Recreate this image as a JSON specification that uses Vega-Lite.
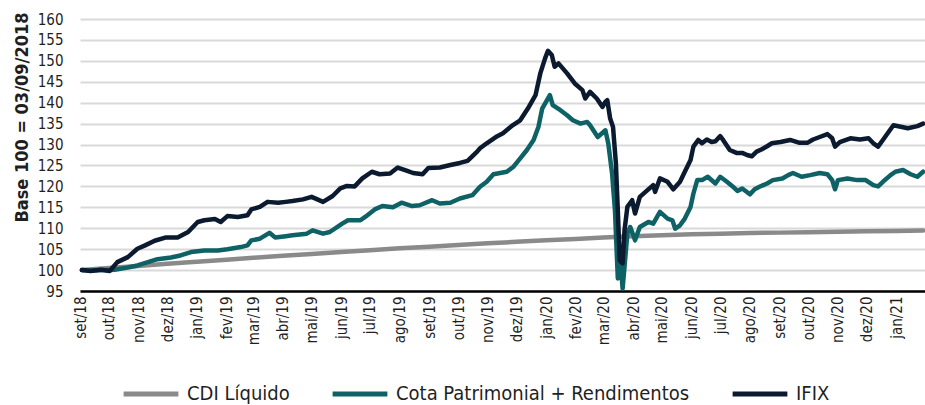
{
  "$schema": "https://vega.github.io/schema/vega-lite/v6.json",
  "width": 845,
  "height": 272,
  "autosize": {"type": "none"},
  "padding": {"left": 80, "top": 19, "right": 0, "bottom": 114},
  "background": "white",
  "config": {
    "view": {"stroke": null},
    "font": "DejaVu Sans Condensed, DejaVu Sans",
    "axis": {"labelFont": "DejaVu Sans Condensed, DejaVu Sans", "titleFont": "DejaVu Sans Condensed, DejaVu Sans"},
    "legend": {"labelFont": "DejaVu Sans Condensed, DejaVu Sans"}
  },
  "data": {
    "values": [
      {"s": "CDI Líquido", "d": "2018-09-03", "v": 100.0},
      {"s": "CDI Líquido", "d": "2018-10-01", "v": 100.5},
      {"s": "CDI Líquido", "d": "2018-11-01", "v": 101.0},
      {"s": "CDI Líquido", "d": "2018-12-01", "v": 101.5},
      {"s": "CDI Líquido", "d": "2019-01-01", "v": 102.0},
      {"s": "CDI Líquido", "d": "2019-02-01", "v": 102.45},
      {"s": "CDI Líquido", "d": "2019-03-01", "v": 102.95},
      {"s": "CDI Líquido", "d": "2019-04-01", "v": 103.4},
      {"s": "CDI Líquido", "d": "2019-05-01", "v": 103.85},
      {"s": "CDI Líquido", "d": "2019-06-01", "v": 104.3},
      {"s": "CDI Líquido", "d": "2019-07-01", "v": 104.75},
      {"s": "CDI Líquido", "d": "2019-08-01", "v": 105.2},
      {"s": "CDI Líquido", "d": "2019-09-01", "v": 105.6},
      {"s": "CDI Líquido", "d": "2019-10-01", "v": 106.0},
      {"s": "CDI Líquido", "d": "2019-11-01", "v": 106.4},
      {"s": "CDI Líquido", "d": "2019-12-01", "v": 106.75},
      {"s": "CDI Líquido", "d": "2020-01-01", "v": 107.1},
      {"s": "CDI Líquido", "d": "2020-02-01", "v": 107.45},
      {"s": "CDI Líquido", "d": "2020-03-01", "v": 107.8},
      {"s": "CDI Líquido", "d": "2020-04-01", "v": 108.1},
      {"s": "CDI Líquido", "d": "2020-05-01", "v": 108.35},
      {"s": "CDI Líquido", "d": "2020-06-01", "v": 108.55},
      {"s": "CDI Líquido", "d": "2020-07-01", "v": 108.7},
      {"s": "CDI Líquido", "d": "2020-08-01", "v": 108.85},
      {"s": "CDI Líquido", "d": "2020-09-01", "v": 108.95},
      {"s": "CDI Líquido", "d": "2020-10-01", "v": 109.05},
      {"s": "CDI Líquido", "d": "2020-11-01", "v": 109.15},
      {"s": "CDI Líquido", "d": "2020-12-01", "v": 109.25},
      {"s": "CDI Líquido", "d": "2021-01-01", "v": 109.35},
      {"s": "CDI Líquido", "d": "2021-01-29", "v": 109.45},

      {"s": "Cota Patrimonial + Rendimentos", "d": "2018-09-03", "v": 100.0},
      {"s": "Cota Patrimonial + Rendimentos", "d": "2018-09-12", "v": 99.9},
      {"s": "Cota Patrimonial + Rendimentos", "d": "2018-09-23", "v": 100.0},
      {"s": "Cota Patrimonial + Rendimentos", "d": "2018-10-02", "v": 100.0},
      {"s": "Cota Patrimonial + Rendimentos", "d": "2018-10-07", "v": 100.1},
      {"s": "Cota Patrimonial + Rendimentos", "d": "2018-10-21", "v": 100.6},
      {"s": "Cota Patrimonial + Rendimentos", "d": "2018-10-31", "v": 101.1},
      {"s": "Cota Patrimonial + Rendimentos", "d": "2018-11-11", "v": 101.9},
      {"s": "Cota Patrimonial + Rendimentos", "d": "2018-11-21", "v": 102.6},
      {"s": "Cota Patrimonial + Rendimentos", "d": "2018-12-05", "v": 103.0},
      {"s": "Cota Patrimonial + Rendimentos", "d": "2018-12-15", "v": 103.5},
      {"s": "Cota Patrimonial + Rendimentos", "d": "2018-12-26", "v": 104.3},
      {"s": "Cota Patrimonial + Rendimentos", "d": "2019-01-09", "v": 104.7},
      {"s": "Cota Patrimonial + Rendimentos", "d": "2019-01-23", "v": 104.7},
      {"s": "Cota Patrimonial + Rendimentos", "d": "2019-02-02", "v": 105.0},
      {"s": "Cota Patrimonial + Rendimentos", "d": "2019-02-16", "v": 105.5},
      {"s": "Cota Patrimonial + Rendimentos", "d": "2019-02-23", "v": 105.9},
      {"s": "Cota Patrimonial + Rendimentos", "d": "2019-02-27", "v": 107.1},
      {"s": "Cota Patrimonial + Rendimentos", "d": "2019-03-08", "v": 107.5},
      {"s": "Cota Patrimonial + Rendimentos", "d": "2019-03-18", "v": 108.9},
      {"s": "Cota Patrimonial + Rendimentos", "d": "2019-03-24", "v": 107.8},
      {"s": "Cota Patrimonial + Rendimentos", "d": "2019-04-04", "v": 108.1},
      {"s": "Cota Patrimonial + Rendimentos", "d": "2019-04-11", "v": 108.3},
      {"s": "Cota Patrimonial + Rendimentos", "d": "2019-04-26", "v": 108.7},
      {"s": "Cota Patrimonial + Rendimentos", "d": "2019-05-02", "v": 109.5},
      {"s": "Cota Patrimonial + Rendimentos", "d": "2019-05-13", "v": 108.7},
      {"s": "Cota Patrimonial + Rendimentos", "d": "2019-05-20", "v": 109.1},
      {"s": "Cota Patrimonial + Rendimentos", "d": "2019-06-02", "v": 111.1},
      {"s": "Cota Patrimonial + Rendimentos", "d": "2019-06-08", "v": 111.9},
      {"s": "Cota Patrimonial + Rendimentos", "d": "2019-06-21", "v": 111.9},
      {"s": "Cota Patrimonial + Rendimentos", "d": "2019-06-26", "v": 112.7},
      {"s": "Cota Patrimonial + Rendimentos", "d": "2019-07-06", "v": 114.5},
      {"s": "Cota Patrimonial + Rendimentos", "d": "2019-07-14", "v": 115.3},
      {"s": "Cota Patrimonial + Rendimentos", "d": "2019-07-25", "v": 115.0},
      {"s": "Cota Patrimonial + Rendimentos", "d": "2019-08-03", "v": 116.1},
      {"s": "Cota Patrimonial + Rendimentos", "d": "2019-08-14", "v": 115.3},
      {"s": "Cota Patrimonial + Rendimentos", "d": "2019-08-22", "v": 115.5},
      {"s": "Cota Patrimonial + Rendimentos", "d": "2019-09-04", "v": 116.7},
      {"s": "Cota Patrimonial + Rendimentos", "d": "2019-09-12", "v": 115.9},
      {"s": "Cota Patrimonial + Rendimentos", "d": "2019-09-23", "v": 116.1},
      {"s": "Cota Patrimonial + Rendimentos", "d": "2019-10-03", "v": 117.1},
      {"s": "Cota Patrimonial + Rendimentos", "d": "2019-10-16", "v": 117.9},
      {"s": "Cota Patrimonial + Rendimentos", "d": "2019-10-24", "v": 119.9},
      {"s": "Cota Patrimonial + Rendimentos", "d": "2019-10-31", "v": 121.1},
      {"s": "Cota Patrimonial + Rendimentos", "d": "2019-11-07", "v": 122.9},
      {"s": "Cota Patrimonial + Rendimentos", "d": "2019-11-21", "v": 123.5},
      {"s": "Cota Patrimonial + Rendimentos", "d": "2019-11-28", "v": 124.7},
      {"s": "Cota Patrimonial + Rendimentos", "d": "2019-12-05", "v": 126.7},
      {"s": "Cota Patrimonial + Rendimentos", "d": "2019-12-12", "v": 128.7},
      {"s": "Cota Patrimonial + Rendimentos", "d": "2019-12-19", "v": 131.1},
      {"s": "Cota Patrimonial + Rendimentos", "d": "2019-12-24", "v": 134.2},
      {"s": "Cota Patrimonial + Rendimentos", "d": "2019-12-28", "v": 138.6},
      {"s": "Cota Patrimonial + Rendimentos", "d": "2020-01-02", "v": 140.6},
      {"s": "Cota Patrimonial + Rendimentos", "d": "2020-01-05", "v": 141.8},
      {"s": "Cota Patrimonial + Rendimentos", "d": "2020-01-08", "v": 139.4},
      {"s": "Cota Patrimonial + Rendimentos", "d": "2020-01-16", "v": 138.2},
      {"s": "Cota Patrimonial + Rendimentos", "d": "2020-01-23", "v": 137.0},
      {"s": "Cota Patrimonial + Rendimentos", "d": "2020-01-29", "v": 135.8},
      {"s": "Cota Patrimonial + Rendimentos", "d": "2020-02-06", "v": 135.0},
      {"s": "Cota Patrimonial + Rendimentos", "d": "2020-02-13", "v": 135.4},
      {"s": "Cota Patrimonial + Rendimentos", "d": "2020-02-16", "v": 134.6},
      {"s": "Cota Patrimonial + Rendimentos", "d": "2020-02-24", "v": 131.8},
      {"s": "Cota Patrimonial + Rendimentos", "d": "2020-03-01", "v": 133.0},
      {"s": "Cota Patrimonial + Rendimentos", "d": "2020-03-03", "v": 133.4},
      {"s": "Cota Patrimonial + Rendimentos", "d": "2020-03-06", "v": 130.3},
      {"s": "Cota Patrimonial + Rendimentos", "d": "2020-03-10", "v": 123.1},
      {"s": "Cota Patrimonial + Rendimentos", "d": "2020-03-13", "v": 114.3},
      {"s": "Cota Patrimonial + Rendimentos", "d": "2020-03-16", "v": 98.0},
      {"s": "Cota Patrimonial + Rendimentos", "d": "2020-03-19", "v": 101.6},
      {"s": "Cota Patrimonial + Rendimentos", "d": "2020-03-21", "v": 95.6},
      {"s": "Cota Patrimonial + Rendimentos", "d": "2020-03-26", "v": 108.7},
      {"s": "Cota Patrimonial + Rendimentos", "d": "2020-03-29", "v": 110.3},
      {"s": "Cota Patrimonial + Rendimentos", "d": "2020-04-03", "v": 107.1},
      {"s": "Cota Patrimonial + Rendimentos", "d": "2020-04-08", "v": 110.3},
      {"s": "Cota Patrimonial + Rendimentos", "d": "2020-04-17", "v": 111.5},
      {"s": "Cota Patrimonial + Rendimentos", "d": "2020-04-22", "v": 111.1},
      {"s": "Cota Patrimonial + Rendimentos", "d": "2020-04-29", "v": 113.9},
      {"s": "Cota Patrimonial + Rendimentos", "d": "2020-05-07", "v": 112.3},
      {"s": "Cota Patrimonial + Rendimentos", "d": "2020-05-12", "v": 111.9},
      {"s": "Cota Patrimonial + Rendimentos", "d": "2020-05-15", "v": 109.9},
      {"s": "Cota Patrimonial + Rendimentos", "d": "2020-05-20", "v": 110.7},
      {"s": "Cota Patrimonial + Rendimentos", "d": "2020-05-25", "v": 112.3},
      {"s": "Cota Patrimonial + Rendimentos", "d": "2020-05-31", "v": 115.1},
      {"s": "Cota Patrimonial + Rendimentos", "d": "2020-06-03", "v": 118.3},
      {"s": "Cota Patrimonial + Rendimentos", "d": "2020-06-07", "v": 121.5},
      {"s": "Cota Patrimonial + Rendimentos", "d": "2020-06-12", "v": 121.5},
      {"s": "Cota Patrimonial + Rendimentos", "d": "2020-06-18", "v": 122.3},
      {"s": "Cota Patrimonial + Rendimentos", "d": "2020-06-26", "v": 120.7},
      {"s": "Cota Patrimonial + Rendimentos", "d": "2020-07-01", "v": 122.3},
      {"s": "Cota Patrimonial + Rendimentos", "d": "2020-07-08", "v": 121.1},
      {"s": "Cota Patrimonial + Rendimentos", "d": "2020-07-14", "v": 120.0},
      {"s": "Cota Patrimonial + Rendimentos", "d": "2020-07-19", "v": 118.9},
      {"s": "Cota Patrimonial + Rendimentos", "d": "2020-07-24", "v": 119.5},
      {"s": "Cota Patrimonial + Rendimentos", "d": "2020-08-01", "v": 118.1},
      {"s": "Cota Patrimonial + Rendimentos", "d": "2020-08-06", "v": 119.3},
      {"s": "Cota Patrimonial + Rendimentos", "d": "2020-08-11", "v": 119.9},
      {"s": "Cota Patrimonial + Rendimentos", "d": "2020-08-19", "v": 120.7},
      {"s": "Cota Patrimonial + Rendimentos", "d": "2020-08-25", "v": 121.5},
      {"s": "Cota Patrimonial + Rendimentos", "d": "2020-09-04", "v": 121.9},
      {"s": "Cota Patrimonial + Rendimentos", "d": "2020-09-10", "v": 122.7},
      {"s": "Cota Patrimonial + Rendimentos", "d": "2020-09-15", "v": 123.2},
      {"s": "Cota Patrimonial + Rendimentos", "d": "2020-09-24", "v": 122.3},
      {"s": "Cota Patrimonial + Rendimentos", "d": "2020-10-03", "v": 122.7},
      {"s": "Cota Patrimonial + Rendimentos", "d": "2020-10-13", "v": 123.2},
      {"s": "Cota Patrimonial + Rendimentos", "d": "2020-10-21", "v": 122.9},
      {"s": "Cota Patrimonial + Rendimentos", "d": "2020-10-26", "v": 121.5},
      {"s": "Cota Patrimonial + Rendimentos", "d": "2020-10-29", "v": 119.3},
      {"s": "Cota Patrimonial + Rendimentos", "d": "2020-11-01", "v": 121.5},
      {"s": "Cota Patrimonial + Rendimentos", "d": "2020-11-11", "v": 121.9},
      {"s": "Cota Patrimonial + Rendimentos", "d": "2020-11-21", "v": 121.5},
      {"s": "Cota Patrimonial + Rendimentos", "d": "2020-11-30", "v": 121.5},
      {"s": "Cota Patrimonial + Rendimentos", "d": "2020-12-08", "v": 120.3},
      {"s": "Cota Patrimonial + Rendimentos", "d": "2020-12-13", "v": 120.0},
      {"s": "Cota Patrimonial + Rendimentos", "d": "2020-12-18", "v": 121.1},
      {"s": "Cota Patrimonial + Rendimentos", "d": "2020-12-26", "v": 122.7},
      {"s": "Cota Patrimonial + Rendimentos", "d": "2020-12-31", "v": 123.5},
      {"s": "Cota Patrimonial + Rendimentos", "d": "2021-01-08", "v": 123.9},
      {"s": "Cota Patrimonial + Rendimentos", "d": "2021-01-16", "v": 122.9},
      {"s": "Cota Patrimonial + Rendimentos", "d": "2021-01-23", "v": 122.3},
      {"s": "Cota Patrimonial + Rendimentos", "d": "2021-01-29", "v": 123.5},

      {"s": "IFIX", "d": "2018-09-03", "v": 100.0},
      {"s": "IFIX", "d": "2018-09-12", "v": 99.8},
      {"s": "IFIX", "d": "2018-09-23", "v": 100.1},
      {"s": "IFIX", "d": "2018-10-02", "v": 99.8},
      {"s": "IFIX", "d": "2018-10-10", "v": 101.9},
      {"s": "IFIX", "d": "2018-10-21", "v": 103.1},
      {"s": "IFIX", "d": "2018-10-31", "v": 105.1},
      {"s": "IFIX", "d": "2018-11-08", "v": 105.9},
      {"s": "IFIX", "d": "2018-11-18", "v": 107.0},
      {"s": "IFIX", "d": "2018-11-30", "v": 107.8},
      {"s": "IFIX", "d": "2018-12-12", "v": 107.8},
      {"s": "IFIX", "d": "2018-12-23", "v": 109.1},
      {"s": "IFIX", "d": "2019-01-02", "v": 111.5},
      {"s": "IFIX", "d": "2019-01-09", "v": 111.9},
      {"s": "IFIX", "d": "2019-01-20", "v": 112.2},
      {"s": "IFIX", "d": "2019-01-26", "v": 111.5},
      {"s": "IFIX", "d": "2019-02-02", "v": 112.9},
      {"s": "IFIX", "d": "2019-02-13", "v": 112.7},
      {"s": "IFIX", "d": "2019-02-23", "v": 113.1},
      {"s": "IFIX", "d": "2019-02-27", "v": 114.5},
      {"s": "IFIX", "d": "2019-03-08", "v": 115.1},
      {"s": "IFIX", "d": "2019-03-16", "v": 116.3},
      {"s": "IFIX", "d": "2019-03-27", "v": 116.1},
      {"s": "IFIX", "d": "2019-04-04", "v": 116.3},
      {"s": "IFIX", "d": "2019-04-11", "v": 116.5},
      {"s": "IFIX", "d": "2019-04-22", "v": 116.9},
      {"s": "IFIX", "d": "2019-05-01", "v": 117.5},
      {"s": "IFIX", "d": "2019-05-13", "v": 116.3},
      {"s": "IFIX", "d": "2019-05-23", "v": 117.7},
      {"s": "IFIX", "d": "2019-05-31", "v": 119.5},
      {"s": "IFIX", "d": "2019-06-07", "v": 120.1},
      {"s": "IFIX", "d": "2019-06-15", "v": 120.0},
      {"s": "IFIX", "d": "2019-06-23", "v": 121.9},
      {"s": "IFIX", "d": "2019-07-03", "v": 123.5},
      {"s": "IFIX", "d": "2019-07-11", "v": 122.9},
      {"s": "IFIX", "d": "2019-07-22", "v": 123.1},
      {"s": "IFIX", "d": "2019-07-30", "v": 124.5},
      {"s": "IFIX", "d": "2019-08-09", "v": 123.7},
      {"s": "IFIX", "d": "2019-08-15", "v": 123.2},
      {"s": "IFIX", "d": "2019-08-25", "v": 122.9},
      {"s": "IFIX", "d": "2019-08-31", "v": 124.4},
      {"s": "IFIX", "d": "2019-09-12", "v": 124.5},
      {"s": "IFIX", "d": "2019-09-23", "v": 125.1},
      {"s": "IFIX", "d": "2019-10-03", "v": 125.6},
      {"s": "IFIX", "d": "2019-10-11", "v": 126.1},
      {"s": "IFIX", "d": "2019-10-21", "v": 128.3},
      {"s": "IFIX", "d": "2019-10-24", "v": 129.1},
      {"s": "IFIX", "d": "2019-10-31", "v": 130.3},
      {"s": "IFIX", "d": "2019-11-11", "v": 132.0},
      {"s": "IFIX", "d": "2019-11-17", "v": 132.7},
      {"s": "IFIX", "d": "2019-11-27", "v": 134.6},
      {"s": "IFIX", "d": "2019-12-05", "v": 135.8},
      {"s": "IFIX", "d": "2019-12-13", "v": 138.6},
      {"s": "IFIX", "d": "2019-12-21", "v": 141.8},
      {"s": "IFIX", "d": "2019-12-26", "v": 147.0},
      {"s": "IFIX", "d": "2019-12-31", "v": 150.6},
      {"s": "IFIX", "d": "2020-01-03", "v": 152.4},
      {"s": "IFIX", "d": "2020-01-07", "v": 151.4},
      {"s": "IFIX", "d": "2020-01-10", "v": 148.6},
      {"s": "IFIX", "d": "2020-01-14", "v": 149.4},
      {"s": "IFIX", "d": "2020-01-23", "v": 147.0},
      {"s": "IFIX", "d": "2020-01-31", "v": 144.6},
      {"s": "IFIX", "d": "2020-02-08", "v": 143.0},
      {"s": "IFIX", "d": "2020-02-11", "v": 141.0},
      {"s": "IFIX", "d": "2020-02-16", "v": 142.6},
      {"s": "IFIX", "d": "2020-02-23", "v": 141.0},
      {"s": "IFIX", "d": "2020-02-29", "v": 139.0},
      {"s": "IFIX", "d": "2020-03-03", "v": 140.2},
      {"s": "IFIX", "d": "2020-03-05", "v": 140.6},
      {"s": "IFIX", "d": "2020-03-08", "v": 136.2},
      {"s": "IFIX", "d": "2020-03-11", "v": 134.2},
      {"s": "IFIX", "d": "2020-03-14", "v": 125.5},
      {"s": "IFIX", "d": "2020-03-16", "v": 114.3},
      {"s": "IFIX", "d": "2020-03-18", "v": 102.3},
      {"s": "IFIX", "d": "2020-03-21", "v": 101.6},
      {"s": "IFIX", "d": "2020-03-23", "v": 109.5},
      {"s": "IFIX", "d": "2020-03-26", "v": 115.1},
      {"s": "IFIX", "d": "2020-03-31", "v": 116.7},
      {"s": "IFIX", "d": "2020-04-03", "v": 113.5},
      {"s": "IFIX", "d": "2020-04-08", "v": 117.5},
      {"s": "IFIX", "d": "2020-04-16", "v": 119.1},
      {"s": "IFIX", "d": "2020-04-22", "v": 120.3},
      {"s": "IFIX", "d": "2020-04-24", "v": 118.7},
      {"s": "IFIX", "d": "2020-04-29", "v": 121.9},
      {"s": "IFIX", "d": "2020-05-07", "v": 121.1},
      {"s": "IFIX", "d": "2020-05-13", "v": 119.3},
      {"s": "IFIX", "d": "2020-05-20", "v": 121.1},
      {"s": "IFIX", "d": "2020-05-25", "v": 123.5},
      {"s": "IFIX", "d": "2020-05-31", "v": 126.3},
      {"s": "IFIX", "d": "2020-06-03", "v": 129.5},
      {"s": "IFIX", "d": "2020-06-08", "v": 131.1},
      {"s": "IFIX", "d": "2020-06-12", "v": 130.3},
      {"s": "IFIX", "d": "2020-06-17", "v": 131.2},
      {"s": "IFIX", "d": "2020-06-22", "v": 130.6},
      {"s": "IFIX", "d": "2020-06-26", "v": 130.8},
      {"s": "IFIX", "d": "2020-07-01", "v": 132.0},
      {"s": "IFIX", "d": "2020-07-04", "v": 131.1},
      {"s": "IFIX", "d": "2020-07-11", "v": 128.7},
      {"s": "IFIX", "d": "2020-07-18", "v": 128.0},
      {"s": "IFIX", "d": "2020-07-24", "v": 128.0},
      {"s": "IFIX", "d": "2020-07-29", "v": 127.5},
      {"s": "IFIX", "d": "2020-08-03", "v": 127.2},
      {"s": "IFIX", "d": "2020-08-08", "v": 128.3},
      {"s": "IFIX", "d": "2020-08-13", "v": 128.8},
      {"s": "IFIX", "d": "2020-08-19", "v": 129.6},
      {"s": "IFIX", "d": "2020-08-24", "v": 130.3},
      {"s": "IFIX", "d": "2020-09-02", "v": 130.6},
      {"s": "IFIX", "d": "2020-09-12", "v": 131.1},
      {"s": "IFIX", "d": "2020-09-22", "v": 130.4},
      {"s": "IFIX", "d": "2020-09-30", "v": 130.4},
      {"s": "IFIX", "d": "2020-10-06", "v": 131.2},
      {"s": "IFIX", "d": "2020-10-13", "v": 131.8},
      {"s": "IFIX", "d": "2020-10-21", "v": 132.5},
      {"s": "IFIX", "d": "2020-10-26", "v": 131.5},
      {"s": "IFIX", "d": "2020-10-29", "v": 129.5},
      {"s": "IFIX", "d": "2020-11-03", "v": 130.6},
      {"s": "IFIX", "d": "2020-11-14", "v": 131.5},
      {"s": "IFIX", "d": "2020-11-24", "v": 131.2},
      {"s": "IFIX", "d": "2020-12-03", "v": 131.5},
      {"s": "IFIX", "d": "2020-12-08", "v": 130.3},
      {"s": "IFIX", "d": "2020-12-13", "v": 129.5},
      {"s": "IFIX", "d": "2020-12-18", "v": 131.1},
      {"s": "IFIX", "d": "2020-12-23", "v": 132.7},
      {"s": "IFIX", "d": "2020-12-29", "v": 134.6},
      {"s": "IFIX", "d": "2021-01-07", "v": 134.2},
      {"s": "IFIX", "d": "2021-01-13", "v": 133.9},
      {"s": "IFIX", "d": "2021-01-23", "v": 134.4},
      {"s": "IFIX", "d": "2021-01-29", "v": 135.0}
    ]
  },
  "mark": {"type": "line", "strokeWidth": 4.5, "strokeJoin": "round", "strokeCap": "round", "clip": false},
  "encoding": {
    "x": {
      "field": "d",
      "type": "temporal",
      "scale": {"domain": ["2018-09-01", "2021-01-31"]},
      "axis": {
        "title": null,
        "grid": false,
        "ticks": false,
        "tickSize": 0,
        "tickCount": {"interval": "month", "step": 1},
        "labelAngle": -90,
        "labelPadding": 5,
        "labelFontSize": 15,
        "labelColor": "#1f1f1f",
        "labelOverlap": false,
        "labelFlush": false,
        "labelExpr": "['jan','fev','mar','abr','mai','jun','jul','ago','set','out','nov','dez'][month(datum.value)] + '/' + timeFormat(datum.value, '%y')",
        "domainColor": "#000000",
        "domainWidth": 2.5
      }
    },
    "y": {
      "field": "v",
      "type": "quantitative",
      "scale": {"domain": [95, 160], "nice": false, "zero": false},
      "axis": {
        "title": "Base 100 = 03/09/2018",
        "titleFontSize": 18,
        "titleFontWeight": "bold",
        "titleColor": "#1f1f1f",
        "titleX": -53,
        "titleY": 98,
        "titleBaseline": "alphabetic",
        "titleAlign": "center",
        "titleAngle": -90,
        "values": [95, 100, 105, 110, 115, 120, 125, 130, 135, 140, 145, 150, 155, 160],
        "domain": false,
        "ticks": false,
        "tickSize": 0,
        "labelPadding": 17,
        "labelFontSize": 15,
        "labelColor": "#1f1f1f",
        "gridColor": "#d9d9d9",
        "gridWidth": 2
      }
    },
    "color": {
      "field": "s",
      "type": "nominal",
      "scale": {
        "domain": ["CDI Líquido", "Cota Patrimonial + Rendimentos", "IFIX"],
        "range": ["#8a8a8a", "#0e6266", "#0c1a30"]
      },
      "legend": {
        "title": null,
        "orient": "none",
        "legendX": 41,
        "legendY": 345,
        "direction": "horizontal",
        "symbolType": "stroke",
        "symbolSize": 3000,
        "symbolStrokeWidth": 5,
        "labelFontSize": 20,
        "labelColor": "#1f1f1f",
        "labelOffset": 6,
        "columnPadding": 32,
        "labelLimit": 400
      }
    }
  }
}
